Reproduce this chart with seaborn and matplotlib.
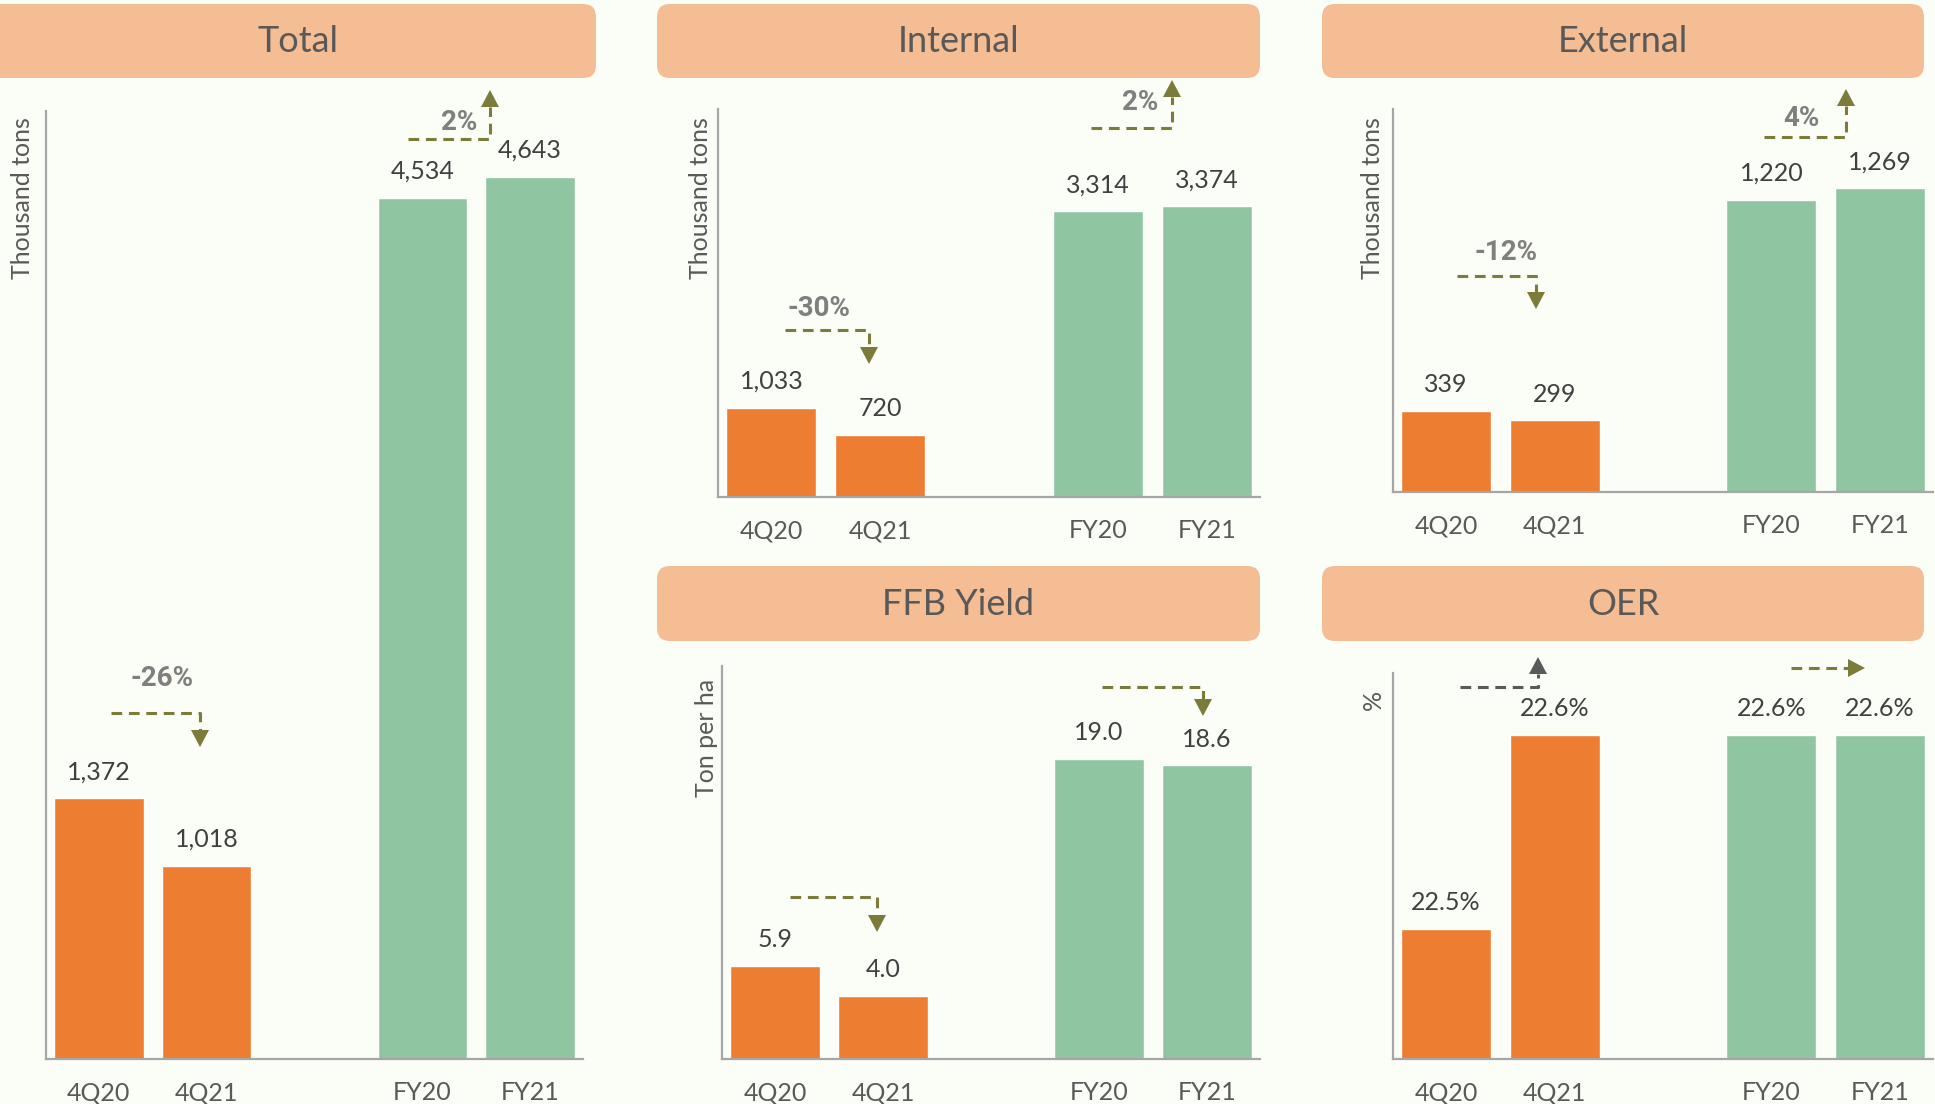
import matplotlib
matplotlib.use("Agg")
import matplotlib.pyplot as plt
from matplotlib.patches import FancyBboxPatch, Polygon
import pandas as pd
import seaborn as sns

sns.set_theme(style="white")
plt.rcParams["font.family"] = ["Lato", "DejaVu Sans"]

# ---- data -------------------------------------------------------------
PERIODS = ["4Q20", "4Q21", "FY20", "FY21"]
ORDER = ["4Q20", "4Q21", "", "FY20", "FY21"]   # "" leaves the gap slot

TOTAL = [1372, 1018, 4534, 4643]
INTERNAL = [1033, 720, 3314, 3374]
EXTERNAL = [339, 299, 1220, 1269]
FFB_YIELD = [5.9, 4.0, 19.0, 18.6]
OER = [22.5, 22.6, 22.6, 22.6]

CHANGE_TOTAL = ["-26%", "2%"]
CHANGE_INTERNAL = ["-30%", "2%"]
CHANGE_EXTERNAL = ["-12%", "4%"]

# ---- style ------------------------------------------------------------
W, H = 1935, 1104
BG = "#FBFDF7"
ORANGE = "#ED7D31"
GREEN = "#8FC5A1"
BOX = "#F4BD94"
OLIVE = "#7B7B3A"
DARK = "#595959"
PALETTE = {"4Q20": ORANGE, "4Q21": ORANGE, "FY20": GREEN, "FY21": GREEN}

fig = plt.figure(figsize=(W / 100, H / 100), dpi=100)
fig.patch.set_facecolor(BG)


def add_panel(rect_px, values, ylim, fmt, ylabel, label_px):
    left, top, right, bottom = rect_px
    ax = fig.add_axes([left / W, 1 - bottom / H, (right - left) / W, (bottom - top) / H])
    df = pd.DataFrame({"period": PERIODS, "value": values})
    sns.barplot(data=df, x="period", y="value", hue="period", order=ORDER,
                palette=PALETTE, width=0.83, saturation=1, legend=False, ax=ax)
    ax.set_xlim(-0.49, 4.49)
    ax.set_ylim(*ylim)
    ax.patch.set_visible(False)
    for side in ["top", "right"]:
        ax.spines[side].set_visible(False)
    for side in ["left", "bottom"]:
        ax.spines[side].set_color("#A6A6A6")
        ax.spines[side].set_linewidth(1.6)
    ax.set_yticks([])
    ax.tick_params(axis="x", length=0, pad=16, labelsize=18, labelcolor=DARK)
    ax.set_xlabel("")
    ax.set_ylabel("")
    for p, v in zip(PERIODS, values):
        ax.annotate(fmt(v), xy=(ORDER.index(p), v), xytext=(0, 19),
                    textcoords="offset points", ha="center", va="center",
                    fontsize=18, color="#404040")
    over.text(label_px[0], label_px[1], ylabel, rotation=90, ha="center", va="top",
              fontsize=18, color=DARK)
    return ax


# overlay in pixel coordinates for title boxes, labels and change arrows
over = fig.add_axes([0, 0, 1, 1], zorder=5)
over.set_xlim(0, W)
over.set_ylim(H, 0)
over.axis("off")

titles = [("Total", -20, 4, 596, 78), ("Internal", 657, 4, 1260, 78),
          ("External", 1322, 4, 1924, 78), ("FFB Yield", 657, 566, 1260, 641),
          ("OER", 1322, 566, 1924, 641)]
for name, x0, y0, x1, y1 in titles:
    over.add_patch(FancyBboxPatch((x0, y0), x1 - x0, y1 - y0,
                                  boxstyle="round,pad=0,rounding_size=13",
                                  facecolor=BOX, edgecolor="none"))
    over.text((max(x0, 0) + x1) / 2, (y0 + y1) / 2 + 1, name, ha="center", va="center",
              fontsize=26, color=DARK)

fmt_int = lambda v: f"{v:,.0f}"
add_panel((46, 111, 583, 1059), TOTAL, (0, 4990), fmt_int, "Thousand tons", (23, 117))
add_panel((718, 109, 1260, 497), INTERNAL, (0, 4500), fmt_int, "Thousand tons", (700, 117))
add_panel((1393, 109, 1933, 492), EXTERNAL, (0, 1600), fmt_int, "Thousand tons", (1373, 117))
add_panel((722, 666, 1260, 1059), FFB_YIELD, (0, 24.9), lambda v: f"{v:.1f}",
          "Ton per ha", (706, 679))
add_panel((1393, 673, 1933, 1059), OER, (22.433, 22.632), lambda v: f"{v:.1f}%",
          "%", (1373, 690))


def elbow_arrow(x0, x1, y, tip, color=OLIVE):
    """Dashed horizontal run, then a short vertical drop/rise to an arrowhead."""
    head = 17
    direction = 1 if tip > y else -1
    base = tip - direction * head
    over.plot([x0, x1, x1], [y, y, base], color=color, lw=2.2,
              linestyle=(0, (3.5, 2.2)), solid_capstyle="butt", dash_capstyle="butt")
    over.add_patch(Polygon([(x1 - 9, base), (x1 + 9, base), (x1, tip)],
                           closed=True, facecolor=color, edgecolor="none"))


def change_text(x, y, s):
    over.text(x, y, s, ha="center", va="center", fontsize=20, fontweight="bold",
              color="#7F7F7F", family=["Roboto", "DejaVu Sans"])


# Total
elbow_arrow(111, 200, 713, 747)
change_text(162, 679, CHANGE_TOTAL[0])
elbow_arrow(408, 490, 139, 90)
change_text(459, 123, CHANGE_TOTAL[1])
# Internal
elbow_arrow(785, 869, 330, 364)
change_text(819, 309, CHANGE_INTERNAL[0])
elbow_arrow(1091, 1172, 128, 80)
change_text(1140, 102, CHANGE_INTERNAL[1])
# External
elbow_arrow(1457, 1536, 276, 309)
change_text(1506, 253, CHANGE_EXTERNAL[0])
elbow_arrow(1764, 1846, 137, 89)
change_text(1801, 118, CHANGE_EXTERNAL[1])
# FFB yield
elbow_arrow(790, 877, 897, 932)
elbow_arrow(1102, 1203, 687, 716)
# OER
elbow_arrow(1460, 1538, 687, 657, color=DARK)
over.plot([1791, 1848], [668, 668], color=OLIVE, lw=2.2, linestyle=(0, (3.5, 2.2)))
over.add_patch(Polygon([(1848, 659), (1848, 677), (1865, 668)], closed=True,
                       facecolor=OLIVE, edgecolor="none"))

fig.savefig("out.png", dpi=100, facecolor=BG)
